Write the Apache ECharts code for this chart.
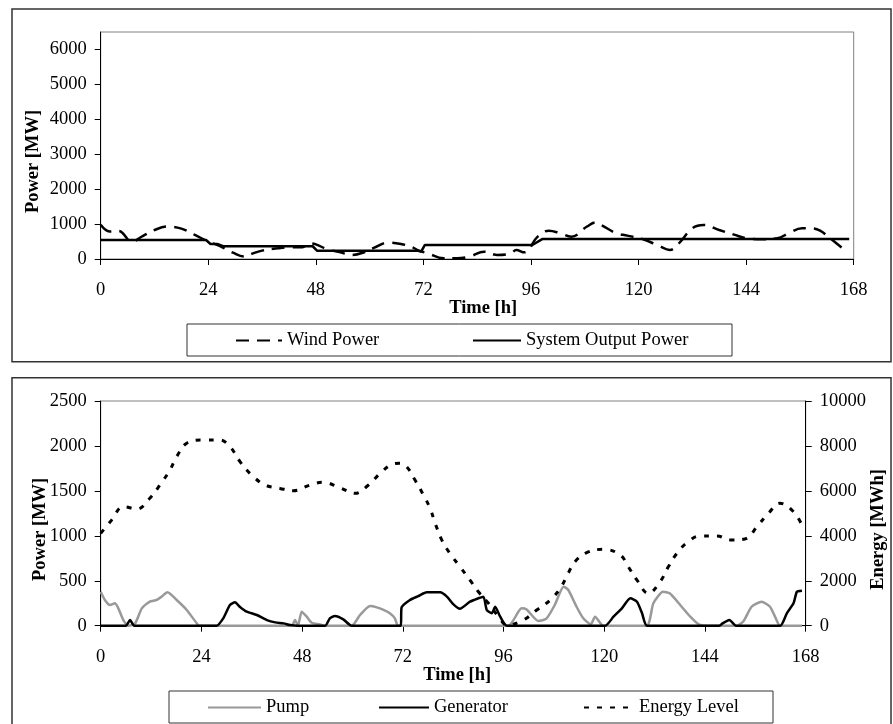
<!DOCTYPE html>
<html>
<head>
<meta charset="utf-8">
<script src="https://cdn.jsdelivr.net/npm/echarts@6/dist/echarts.min.js"></script>
<style>
  html, body { margin: 0; padding: 0; background: #fff; }
  #chart { width: 893px; height: 724px; }
</style>
</head>
<body>
<div id="chart"></div>
<script>
// top chart: wind vs system output
var windHours = [0, 2, 4, 7, 9, 12, 15, 18, 21, 24, 26.5, 29.5, 32, 34, 36, 39.5, 42, 45, 46.5, 48, 50.5, 53.5, 56, 58.5, 61.5, 64, 67, 69.5, 71, 73, 76.5, 79.5, 82.5, 85.5, 88.5, 91.5, 92.7, 94.5, 97.5, 100, 102.5, 105, 108.5, 110.5, 112, 115, 117.5, 121, 124.5, 127, 129, 132, 134.5, 138, 141.5, 144, 147.5, 151, 153.5, 156.5, 158.5, 160.5, 163, 165.5];
var windPower = [980, 790, 800, 490, 630, 830, 930, 870, 690, 500, 375, 180, 70, 160, 240, 305, 335, 335, 450, 420, 280, 190, 115, 180, 350, 470, 430, 335, 240, 160, 20, 20, 80, 210, 115, 160, 258, 190, 640, 810, 740, 640, 930, 1050, 950, 740, 670, 565, 380, 260, 450, 880, 975, 830, 690, 595, 565, 595, 740, 880, 880, 810, 565, 305];
var sysHours = [0, 23.5, 24.5, 26, 27.3, 47.3, 48.3, 70.8, 71.5, 72.3, 96.3, 98.6, 167];
var sysPower = [545, 545, 430, 430, 365, 365, 235, 235, 210, 400, 400, 575, 575];

// bottom chart: pump / generator / storage energy
var pumpHours = [0, 1, 2.2, 3.4, 4.2, 5.4, 6.6, 8.2, 9.8, 11.7, 13.3, 14.5, 15.9, 18.1, 20.5, 22.9, 23.5, 45.5, 46.3, 47, 47.9, 49.1, 50.3, 52.3, 53.1, 59.8, 61.8, 64.2, 65.8, 67.4, 68.9, 70.1, 70.9, 97.1, 100.3, 101.5, 104.3, 106.2, 108.2, 110.3, 111.4, 113.4, 115, 116.8, 117.8, 119.8, 130.1, 131.7, 134, 135.6, 138.1, 140.5, 142.5, 144.4, 151.6, 153.2, 155.1, 157.5, 159.5, 160.7, 161.9, 167.1];
var pumpPower = [378, 286, 230, 249, 193, 63, 0, 26, 193, 267, 286, 323, 371, 286, 175, 26, 0, 0, 63, 0, 156, 100, 33, 15, 0, 0, 119, 219, 204, 175, 138, 82, 0, 0, 193, 180, 52, 78, 230, 434, 400, 211, 82, 15, 100, 0, 0, 249, 378, 360, 230, 100, 15, 0, 0, 52, 211, 267, 211, 100, 0, 0];
var genHours = [0, 6, 7, 8, 27.6, 29.2, 30.8, 32, 33.2, 34.8, 37.2, 39.6, 41.6, 43.6, 45.1, 47, 53.5, 54.6, 55.8, 57.8, 59.8, 71.5, 71.7, 73.7, 75.7, 77.7, 80.9, 82.5, 84, 85.6, 88, 90, 91.2, 92, 93.2, 94, 95.2, 96.8, 120.2, 122.2, 124.2, 126.2, 127.8, 129, 130.2, 147.4, 148.2, 149.8, 151.4, 161.9, 163.5, 165.1, 165.9, 167.1];
var genPower = [0, 0, 63, 0, 0, 82, 230, 260, 208, 156, 119, 63, 37, 26, 7, 0, 0, 82, 108, 71, 0, 0, 204, 286, 330, 371, 371, 323, 240, 188, 267, 305, 323, 175, 138, 211, 100, 0, 0, 100, 193, 305, 267, 138, 0, 0, 26, 63, 0, 0, 138, 249, 378, 390];
var energyHours = [0, 2.6, 5.4, 8.6, 11.7, 14.1, 16.5, 18.1, 20.5, 24.4, 28.4, 30.8, 33.2, 36, 39.2, 42.7, 45.9, 49.9, 53, 57, 60.6, 63.8, 66.6, 69.4, 71.3, 72.9, 74.9, 76.9, 78.5, 79.7, 81.3, 83.2, 85.6, 88, 90, 92.4, 94.8, 96.8, 100.7, 103.9, 107.1, 109.5, 111.4, 113, 115.8, 119.8, 123.8, 125.7, 127.8, 130.5, 133.3, 135.3, 137.3, 139.7, 142.8, 146.8, 150.4, 153.5, 156.7, 159.1, 161.9, 165.1, 167.1];
var energyLevel = [4110, 4700, 5300, 5190, 5670, 6260, 6930, 7520, 8120, 8260, 8260, 7970, 7300, 6700, 6260, 6110, 6010, 6260, 6380, 6140, 5890, 6260, 6780, 7180, 7230, 7080, 6480, 5820, 5220, 4560, 3810, 3220, 2630, 2030, 1510, 1000, 400, 30, 250, 700, 1140, 1660, 2330, 2850, 3250, 3400, 3150, 2630, 2030, 1440, 1960, 2630, 3220, 3690, 3990, 3990, 3810, 3860, 4480, 5000, 5450, 5070, 4480];

var timeTicks = [0, 24, 48, 72, 96, 120, 144, 168];
var topPowerTicks = [0, 1000, 2000, 3000, 4000, 5000, 6000];

function pairs(xs, ys) {
    var out = [];
    for (var i = 0; i < xs.length; i++) out.push([xs[i], ys[i]]);
    return out;
}

var font = 'Liberation Serif';
var plain = function (v) { return String(v); };
var lbl = {color: '#000', fontSize: 18.5, fontFamily: font};
var axLine = {show: true, onZero: false, lineStyle: {color: '#000', width: 1}};
var tick = {show: true, inside: false, length: 6, lineStyle: {color: '#000'}};
var nameStyle = {color: '#000', fontSize: 18.5, fontWeight: 'bold', fontFamily: font};
//竖排标题整体下移一点
var yNameStyle = Object.assign({padding: [0, 32, 0, 0]}, nameStyle);

function legendAt(name, left, top, w) {
    return {data: [name], left: left, top: top, padding: 0, itemWidth: w, itemHeight: 14,
        itemStyle: {opacity: 0}, textStyle: lbl};
}

var chart = echarts.init(document.getElementById('chart'));

var option = {
    animation: false,
    textStyle: {fontFamily: font},
    grid: [
        {left: 100.7, top: 32, width: 753, height: 227, outerBoundsMode: 'none',
            show: true, borderColor: '#808080', borderWidth: 1},
        {left: 100.7, top: 401, width: 705, height: 224.7, outerBoundsMode: 'none',
            show: true, borderColor: '#808080', borderWidth: 1}
    ],
    xAxis: [
        {gridIndex: 0, type: 'value', min: 0, max: 168, interval: 24,
            axisLine: axLine, axisTick: tick, splitLine: {show: false},
            axisLabel: Object.assign({margin: 22, formatter: plain, customValues: timeTicks}, lbl),
            name: 'Time [h]', nameLocation: 'middle', nameGap: 40, nameMoveOverlap: false,
            nameTextStyle: Object.assign({padding: [0, 0, 0, 12]}, nameStyle)},
        {gridIndex: 1, type: 'value', min: 0, max: 168, interval: 24,
            axisLine: axLine, axisTick: tick, splitLine: {show: false},
            axisLabel: Object.assign({margin: 22, formatter: plain, customValues: timeTicks}, lbl),
            name: 'Time [h]', nameLocation: 'middle', nameGap: 40, nameMoveOverlap: false,
            nameTextStyle: Object.assign({padding: [0, 0, 0, 8]}, nameStyle)}
    ],
    yAxis: [
        {gridIndex: 0, type: 'value', min: 0, max: 6500, interval: 1000,
            axisLine: axLine, splitLine: {show: false},
            axisTick: Object.assign({customValues: topPowerTicks}, tick),
            axisLabel: Object.assign({margin: 14, formatter: plain, customValues: topPowerTicks}, lbl),
            name: 'Power [MW]', nameLocation: 'middle', nameGap: 58, nameRotate: 90, nameMoveOverlap: false,
            nameTextStyle: yNameStyle},
        {gridIndex: 1, type: 'value', min: 0, max: 2500, interval: 500,
            axisLine: axLine, axisTick: tick, splitLine: {show: false},
            axisLabel: Object.assign({margin: 14, formatter: plain}, lbl),
            name: 'Power [MW]', nameLocation: 'middle', nameGap: 51, nameRotate: 90, nameMoveOverlap: false,
            nameTextStyle: yNameStyle},
        {gridIndex: 1, type: 'value', position: 'right', min: 0, max: 10000, interval: 2000,
            axisLine: axLine, axisTick: tick, splitLine: {show: false},
            axisLabel: Object.assign({margin: 14, formatter: plain}, lbl),
            name: 'Energy [MWh]', nameLocation: 'middle', nameGap: 63, nameRotate: 90, nameMoveOverlap: false,
            nameTextStyle: yNameStyle}
    ],
    legend: [
        legendAt('Wind Power', 235, 331, 46),
        legendAt('System Output Power', 472, 331, 48),
        legendAt('Pump', 207, 698, 53),
        legendAt('Generator', 378, 698, 50),
        legendAt('Energy Level', 583, 698, 50)
    ],
    series: [
        {name: 'Wind Power', type: 'line', xAxisIndex: 0, yAxisIndex: 0, symbol: 'none', smooth: 0.4,
            data: pairs(windHours, windPower), itemStyle: {color: '#000'},
            lineStyle: {color: '#000', width: 2.5, type: [13, 8]}},
        {name: 'System Output Power', type: 'line', xAxisIndex: 0, yAxisIndex: 0, symbol: 'none',
            data: pairs(sysHours, sysPower), itemStyle: {color: '#000'},
            lineStyle: {color: '#000', width: 2.5}},
        {name: 'Pump', type: 'line', xAxisIndex: 1, yAxisIndex: 1, symbol: 'none', smooth: 0.2,
            data: pairs(pumpHours, pumpPower), itemStyle: {color: '#999'},
            lineStyle: {color: '#999', width: 2.5}},
        {name: 'Generator', type: 'line', xAxisIndex: 1, yAxisIndex: 1, symbol: 'none', smooth: 0.2,
            data: pairs(genHours, genPower), itemStyle: {color: '#000'},
            lineStyle: {color: '#000', width: 2.5}},
        {name: 'Energy Level', type: 'line', xAxisIndex: 1, yAxisIndex: 2, symbol: 'none', smooth: 0.4,
            data: pairs(energyHours, energyLevel), itemStyle: {color: '#000'},
            lineStyle: {color: '#000', width: 3, type: [5, 8]}}
    ],
    graphic: [
        {type: 'rect', silent: true, shape: {x: 12, y: 9, width: 879, height: 352.7},
            style: {fill: 'none', stroke: '#333', lineWidth: 1.5}},
        {type: 'rect', silent: true, shape: {x: 12, y: 377.7, width: 879, height: 360},
            style: {fill: 'none', stroke: '#333', lineWidth: 1.5}},
        {type: 'rect', silent: true, shape: {x: 187, y: 324, width: 545, height: 32},
            style: {fill: 'none', stroke: '#333', lineWidth: 1}},
        {type: 'rect', silent: true, shape: {x: 169, y: 691, width: 604, height: 32},
            style: {fill: 'none', stroke: '#333', lineWidth: 1}}
    ]
};

chart.setOption(option);
window.onresize = chart.resize;
</script>
</body>
</html>
